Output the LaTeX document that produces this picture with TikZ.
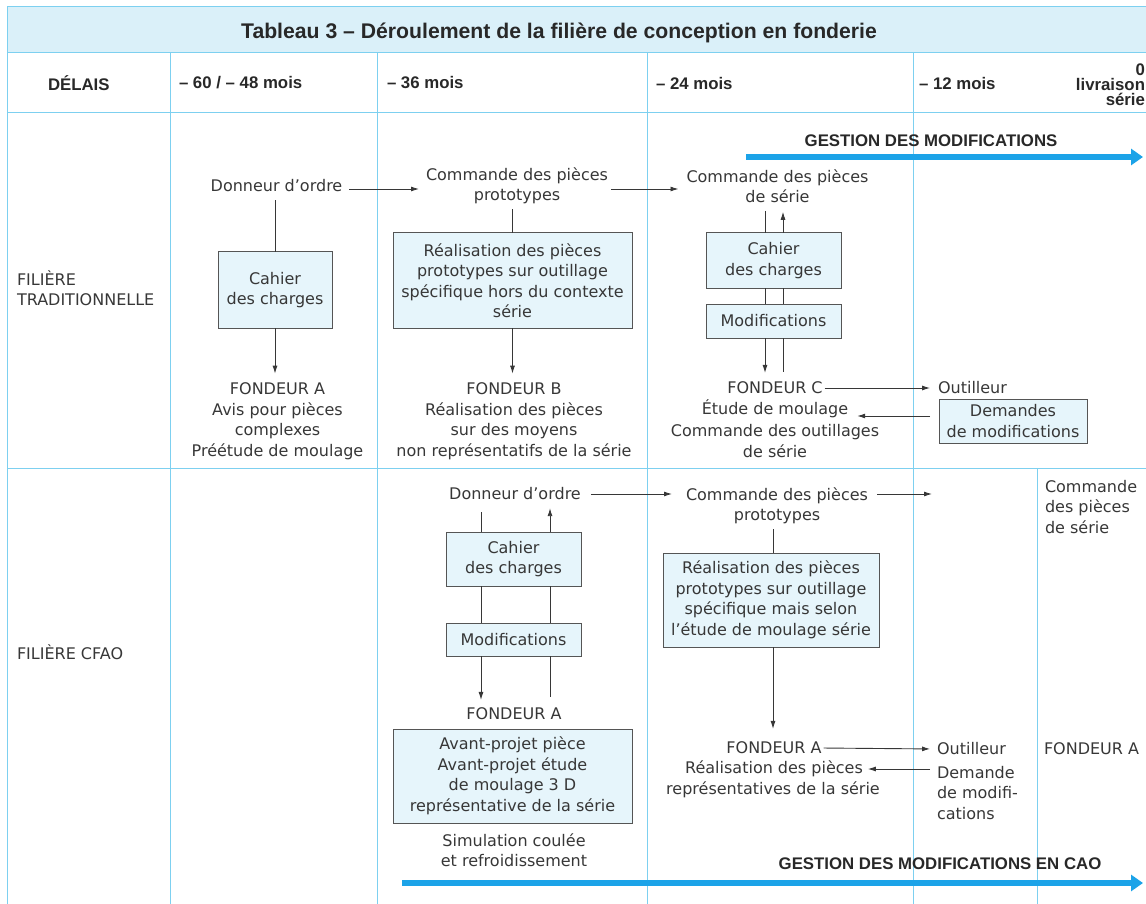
\documentclass[tikz,border=0pt]{standalone}
\usepackage{fontspec}
\setmainfont{DejaVu Sans}
\newfontfamily\hdfont{Liberation Sans}
\usetikzlibrary{arrows.meta}
\definecolor{gridc}{RGB}{125,208,240}
\definecolor{bandc}{RGB}{218,240,249}
\definecolor{boxfill}{RGB}{230,245,251}
\definecolor{ink}{RGB}{55,55,55}
\definecolor{boxline}{RGB}{85,85,85}
\definecolor{bluearrow}{RGB}{28,163,232}
\definecolor{hdink}{RGB}{40,40,40}
\begin{document}
\begin{tikzpicture}[x=1pt,y=-1pt,
  txt/.style={font=\fontsize{16}{20.5}\selectfont, text=ink, align=center, inner sep=0pt, outer sep=0pt},
  hd/.style={font=\hdfont\bfseries\fontsize{16.8}{18}\selectfont, text=hdink, inner sep=0pt, outer sep=0pt},
  titlef/.style={font=\hdfont\bfseries\fontsize{21.2}{24}\selectfont, text=hdink, inner sep=0pt},
  gest/.style={font=\hdfont\bfseries\fontsize{16.8}{18}\selectfont, text=hdink, inner sep=0pt},
  box/.style={txt, draw=boxline, line width=1pt, fill=boxfill},
  conn/.style={draw=ink, line width=0.9pt},
  arr/.style={conn, -{Latex[length=8pt,width=5pt]}},
  gridline/.style={draw=gridc, line width=1pt},
  bigarr/.style={draw=bluearrow, line width=6pt, -{Triangle[length=12pt,width=16pt]}}
]
\useasboundingbox (0,0) rectangle (1146,904);
% title band and grid
\fill[bandc] (7,7) rectangle (1146,53);
\draw[gridline] (7,7) -- (1146,7);
\draw[gridline] (7,53) -- (1146,53);
\draw[gridline] (7,113) -- (1146,113);
\draw[gridline] (7,468) -- (1146,468);
\draw[gridline] (7,7) -- (7,904);
\foreach \x in {170,377,647,913} \draw[gridline] (\x,53) -- (\x,904);
\draw[gridline] (1037,468) -- (1037,904);

\node[titlef] (title) at (559,33) {Tableau 3 – Déroulement de la filière de conception en fonderie};

% header
\node[hd, anchor=west] (hdel) at (48,83) {DÉLAIS};
\node[hd, anchor=west] (h60) at (179,83) {– 60 / – 48 mois};
\node[hd, anchor=west] (h36) at (387,83) {– 36 mois};
\node[hd, anchor=west] (h24) at (656,83) {– 24 mois};
\node[hd, anchor=west] (h12) at (919,83) {– 12 mois};
\node[hd, anchor=east, align=right, font=\hdfont\bfseries\fontsize{16.8}{15}\selectfont] (h0) at (1145,85) {0\\livraison\\série};

% row labels
\node[txt, anchor=west, align=left] (lab1) at (17,288) {FILIÈRE\\TRADITIONNELLE};
\node[txt, anchor=west] (lab2) at (17,652) {FILIÈRE CFAO};

% ---------- traditional ----------
\node[txt] (don1) at (276.5,186) {Donneur d'ordre};
\node[box, minimum width=114pt, minimum height=76pt] (cah1) at (275,290) {Cahier\\des charges};
\node[txt] (fa1) at (277.5,421) {FONDEUR A\\Avis pour pièces\\complexes\\Préétude de moulage};
\node[txt] (cmd1) at (517,186) {Commande des pièces\\prototypes};
\node[box, minimum width=239pt, minimum height=95pt] (real1) at (512.5,280.5) {Réalisation des pièces\\prototypes sur outillage\\spécifique hors du contexte\\série};
\node[txt] (fb) at (514,421) {FONDEUR B\\Réalisation des pièces\\sur des moyens\\non représentatifs de la série};
\node[txt] (cmd2) at (777.5,186) {Commande des pièces\\de série};
\node[box, minimum width=135pt, minimum height=55pt] (cah2) at (773.5,260.5) {Cahier\\des charges};
\node[box, minimum width=135pt, minimum height=34pt] (mod2) at (773.5,321) {Modifications};
\node[txt] (fcT) at (775,388) {FONDEUR C};
\node[txt] (fcE) at (775,409) {Étude de moulage};
\node[txt] (fcR) at (775,441) {Commande des outillages\\de série};
\node[txt] (out1) at (972.5,388) {Outilleur};
\node[box, minimum width=148pt, minimum height=44pt] (dem1) at (1013,421) {Demandes\\de modifications};

\draw[arr, shorten <=7pt, shorten >=7pt] ([yshift=-3pt]don1.east) -- ([yshift=-3pt]don1.east -| cmd1.west);
\draw[arr, shorten <=3pt, shorten >=8pt] ([yshift=-3pt]cmd1.east) -- ([yshift=-3pt]cmd1.east -| cmd2.west);
\draw[conn, shorten <=8pt] (cah1.north |- don1.south) -- (cah1.north);
\draw[arr, shorten >=9pt] (cah1.south) -- (cah1.south |- fa1.north);
\draw[conn, shorten <=5pt] (real1.north |- cmd1.south) -- (real1.north);
\draw[arr, shorten >=9pt] (real1.south) -- (real1.south |- fb.north);

\coordinate (L2) at (765,0);
\coordinate (R2) at (783,0);
\draw[conn, shorten <=8pt] (cmd2.south -| L2) -- (cah2.north -| L2);
\draw[conn] (cah2.south -| L2) -- (mod2.north -| L2);
\draw[arr, shorten >=9pt] (mod2.south -| L2) -- (fcT.north -| L2);
\draw[conn, shorten <=10pt] (fcT.north -| R2) -- (mod2.south -| R2);
\draw[conn] (mod2.north -| R2) -- (cah2.south -| R2);
\draw[arr, shorten >=9pt] (cah2.north -| R2) -- (cmd2.south -| R2);

\draw[arr, shorten <=2pt, shorten >=8pt] (fcT.east) -- (out1.west);
\draw[arr, shorten <=9pt, shorten >=9pt] ([yshift=5pt]dem1.west) -- ([yshift=5pt]dem1.west -| fcE.east);

\coordinate (g1s) at (746,157);
\coordinate (g1e) at (1143,157);
\draw[bigarr] (g1s) -- (g1e);
\node[gest] (gm1) at (931,141) {GESTION DES MODIFICATIONS};

% ---------- CFAO ----------
\node[txt] (don2) at (515,494) {Donneur d'ordre};
\node[box, minimum width=135pt, minimum height=54pt] (cah3) at (513.5,559) {Cahier\\des charges};
\node[box, minimum width=135pt, minimum height=33pt] (mod3) at (513.5,639.5) {Modifications};
\node[txt] (fa2) at (514,714) {FONDEUR A};
\node[box, minimum width=239pt, minimum height=94pt] (avp) at (512.5,776) {Avant-projet pièce\\Avant-projet étude\\de moulage 3 D\\représentative de la série};
\node[txt] (sim) at (514,850) {Simulation coulée\\et refroidissement};

\coordinate (L3) at (481,0);
\coordinate (R3) at (550,0);
\draw[conn, shorten <=12pt] (don2.south -| L3) -- (cah3.north -| L3);
\draw[conn] (cah3.south -| L3) -- (mod3.north -| L3);
\draw[arr, shorten >=8pt] (mod3.south -| L3) -- (fa2.north -| L3);
\draw[conn, shorten <=11pt] (fa2.north -| R3) -- (mod3.south -| R3);
\draw[conn] (mod3.north -| R3) -- (cah3.south -| R3);
\draw[arr, shorten >=8pt] (cah3.north -| R3) -- (don2.south -| R3);

\node[txt] (cmd3) at (777,506) {Commande des pièces\\prototypes};
\node[box, minimum width=216pt, minimum height=94pt] (real2) at (771,600) {Réalisation des pièces\\prototypes sur outillage\\spécifique mais selon\\l'étude de moulage série};
\node[txt] (fa3) at (774,748) {FONDEUR A};
\node[txt] (rea3a) at (774,769) {Réalisation des pièces};
\node[txt] (rea3b) at (773,790) {représentatives de la série};
\node[txt] (out2) at (971.5,749) {Outilleur};
\node[txt, anchor=west, align=left] (dm2) at (937,793) {Demande\\de modifi-\\cations};
\node[txt, anchor=west, align=left] (cmd4) at (1045,507) {Commande\\des pièces\\de série};
\node[txt, anchor=west] (fa4) at (1044,749) {FONDEUR A};

\coordinate (c3e) at (932,494);
\coordinate (X3) at (773,0);
\draw[arr, shorten <=10pt, shorten >=14pt] (don2.east) -- (don2.east -| cmd3.west);
\draw[arr, shorten <=9pt] (cmd3.east |- c3e) -- (c3e);
\draw[conn, shorten <=5pt] (cmd3.south -| X3) -- (real2.north -| X3);
\draw[arr, shorten >=13pt] (real2.south -| X3) -- (fa3.north -| X3);
\draw[arr, shorten <=2pt, shorten >=7pt] (fa3.east) -- (out2.west);
\draw[arr, shorten <=7pt, shorten >=5pt] (dm2.west |- rea3a.east) -- (rea3a.east);

\coordinate (g2s) at (402,883);
\coordinate (g2e) at (1143,883);
\draw[bigarr] (g2s) -- (g2e);
\node[gest] (gm2) at (940,864) {GESTION DES MODIFICATIONS EN CAO};
\end{tikzpicture}
\end{document}
